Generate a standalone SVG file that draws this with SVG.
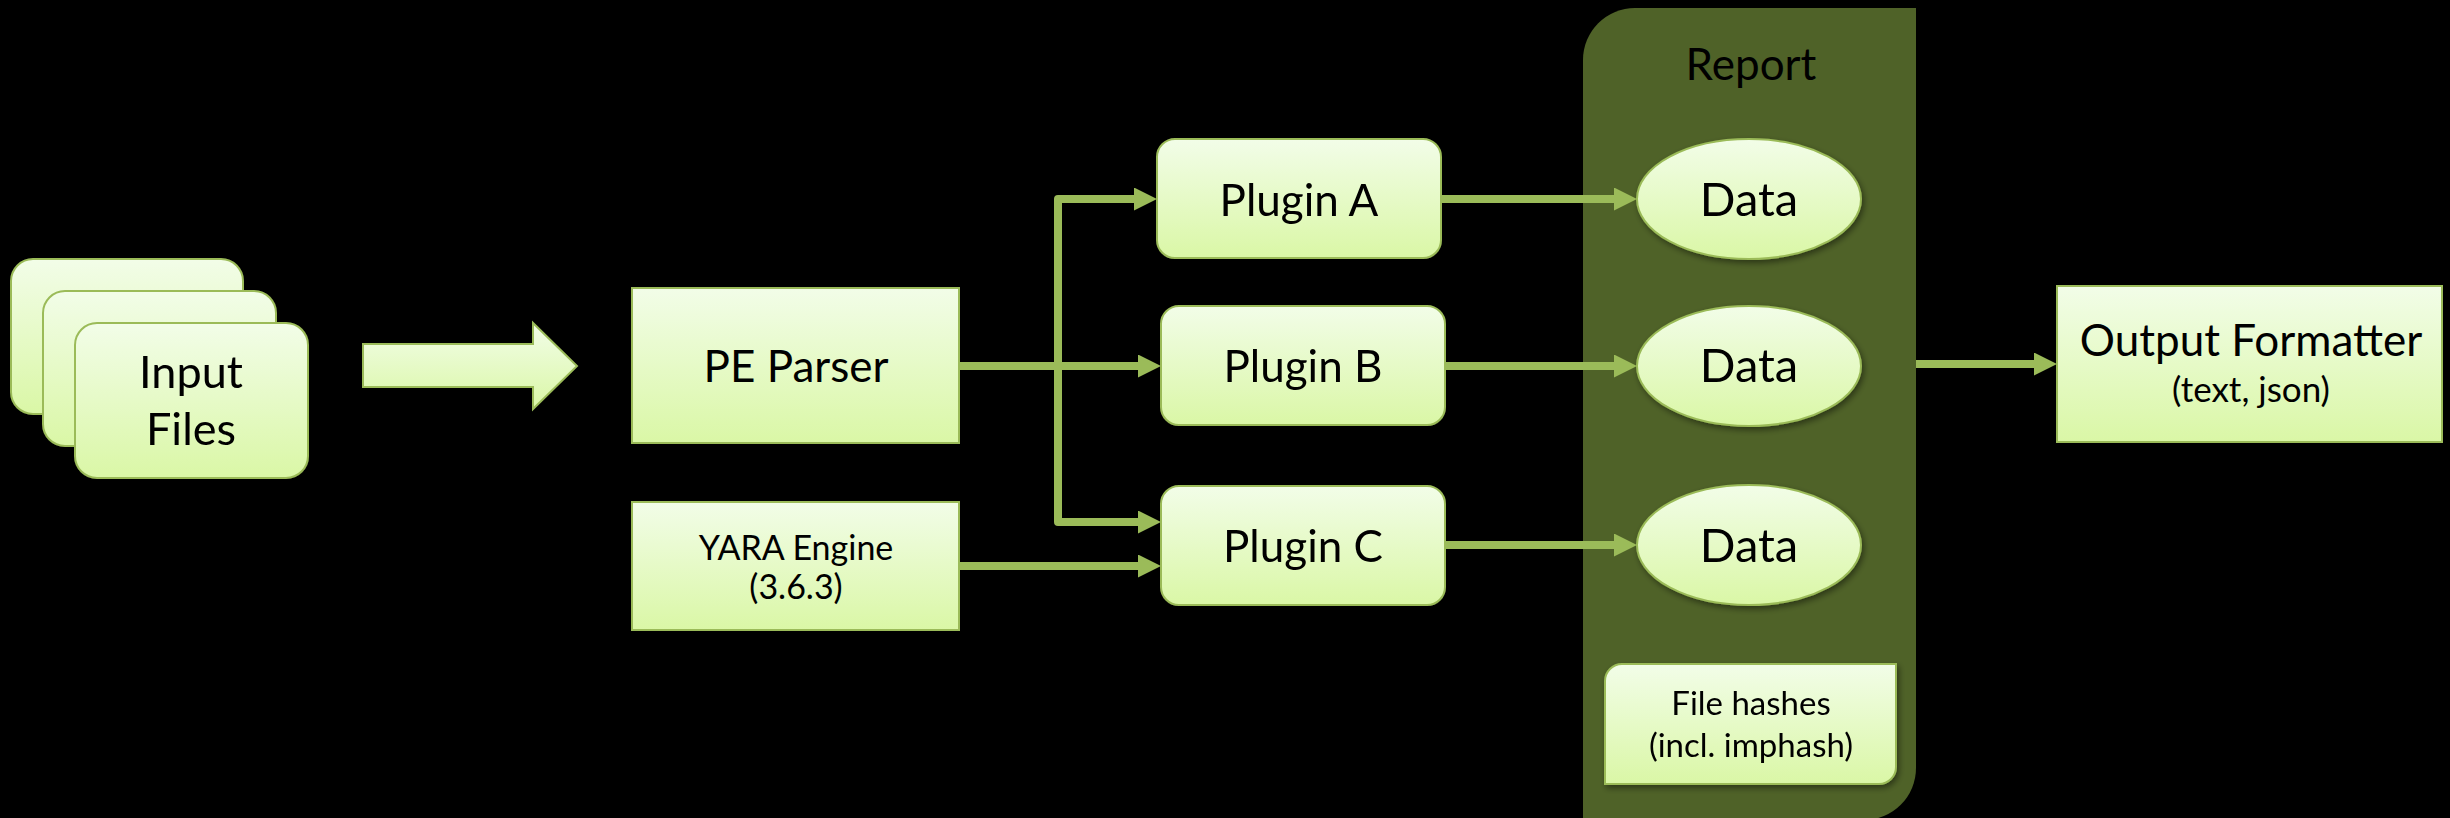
<svg xmlns="http://www.w3.org/2000/svg" width="2450" height="818" viewBox="0 0 2450 818">
  <style>
    .box { fill: url(#paleGreen); stroke: #9BBB59; stroke-width: 2; }
    .lbl { font-family: Lato, "Open Sans", "Liberation Sans", sans-serif; font-size: 44px; fill: #000; text-anchor: middle; }
    .sm { font-size: 33px; }
    .conn { fill: none; stroke: #9BBB59; stroke-width: 8; stroke-linejoin: round; marker-end: url(#head); }
  </style>
  <defs>
    <linearGradient id="paleGreen" x1="0" y1="0" x2="0" y2="1">
      <stop offset="0" stop-color="#F2FDE8"/>
      <stop offset="1" stop-color="#DAF7A6"/>
    </linearGradient>
    <marker id="head" markerUnits="userSpaceOnUse" markerWidth="24" markerHeight="24" refX="0" refY="11.5" orient="auto">
      <path d="M0,0 L23,11.5 L0,23 Z" fill="#9BBB59"/>
    </marker>
    <filter id="shadow" x="-10%" y="-10%" width="130%" height="140%">
      <feGaussianBlur in="SourceAlpha" stdDeviation="3"/>
      <feOffset dx="2" dy="3" result="b"/>
      <feComponentTransfer><feFuncA type="linear" slope="0.45"/></feComponentTransfer>
      <feMerge><feMergeNode/><feMergeNode in="SourceGraphic"/></feMerge>
    </filter>
  </defs>

  <rect width="2450" height="818" fill="#000"/>

  <!-- Report container -->
  <g id="report">
    <path d="M1635,8 H1916 V768 A52,52 0 0 1 1864,820 H1583 V60 A52,52 0 0 1 1635,8 Z" fill="#4F6228"/>
    <text class="lbl" x="1751" y="80">Report</text>
  </g>

  <!-- Input files stack -->
  <g id="input-files" filter="url(#shadow)">
    <rect class="box" x="11" y="259" width="232" height="155" rx="22"/>
    <rect class="box" x="43" y="291" width="233" height="155" rx="22"/>
    <rect class="box" x="75" y="323" width="233" height="155" rx="22"/>
    <text class="lbl" x="191" y="388" style="font-size:45px">Input</text>
    <text class="lbl" x="191" y="445" style="font-size:45px">Files</text>
  </g>

  <!-- Block arrow -->
  <g id="block-arrow">
    <path class="box" d="M363,344 H533 V323 L577,366 L533,409 V387 H363 Z" stroke-width="1.5"/>
  </g>

  <g id="pe-parser">
    <rect class="box" x="632" y="288" width="327" height="155"/>
    <text class="lbl" x="796" y="382">PE Parser</text>
  </g>

  <g id="yara-engine">
    <rect class="box" x="632" y="502" width="327" height="128"/>
    <text class="lbl sm" x="796" y="560" style="font-size:34px">YARA Engine</text>
    <text class="lbl sm" x="796" y="599" style="font-size:34px">(3.6.3)</text>
  </g>

  <g id="plugin-a" filter="url(#shadow)">
    <rect class="box" x="1157" y="139" width="284" height="119" rx="18"/>
    <text class="lbl" x="1299" y="216">Plugin A</text>
  </g>
  <g id="plugin-b" filter="url(#shadow)">
    <rect class="box" x="1161" y="306" width="284" height="119" rx="18"/>
    <text class="lbl" x="1303" y="382">Plugin B</text>
  </g>
  <g id="plugin-c" filter="url(#shadow)">
    <rect class="box" x="1161" y="486" width="284" height="119" rx="18"/>
    <text class="lbl" x="1303" y="562">Plugin C</text>
  </g>

  <g id="data-a" filter="url(#shadow)">
    <ellipse class="box" cx="1749" cy="199" rx="112" ry="60"/>
    <text class="lbl" x="1749" y="216" style="font-size:47px">Data</text>
  </g>
  <g id="data-b" filter="url(#shadow)">
    <ellipse class="box" cx="1749" cy="366" rx="112" ry="60"/>
    <text class="lbl" x="1749" y="382" style="font-size:47px">Data</text>
  </g>
  <g id="data-c" filter="url(#shadow)">
    <ellipse class="box" cx="1749" cy="545" rx="112" ry="60"/>
    <text class="lbl" x="1749" y="562" style="font-size:47px">Data</text>
  </g>

  <g id="file-hashes" filter="url(#shadow)">
    <path class="box" d="M1622,664 H1896 V767 A17,17 0 0 1 1879,784 H1605 V681 A17,17 0 0 1 1622,664 Z"/>
    <text class="lbl sm" x="1751" y="715">File hashes</text>
    <text class="lbl sm" x="1751" y="757">(incl. imphash)</text>
  </g>

  <g id="output-formatter">
    <rect class="box" x="2057" y="286" width="385" height="156"/>
    <text class="lbl" x="2251" y="356">Output Formatter</text>
    <text class="lbl sm" x="2251" y="402" style="font-size:35px">(text, json)</text>
  </g>

  <!-- Connectors -->
  <g id="connectors">
    <path class="conn" d="M960,366 H1138"/>
    <path class="conn" d="M1058,366 V199 H1134"/>
    <path class="conn" d="M1058,366 V522 H1138"/>
    <path class="conn" d="M960,566 H1138"/>
    <path class="conn" d="M1441,199 H1614"/>
    <path class="conn" d="M1445,366 H1614"/>
    <path class="conn" d="M1445,545 H1614"/>
    <path class="conn" d="M1916,364 H2034"/>
  </g>
</svg>
